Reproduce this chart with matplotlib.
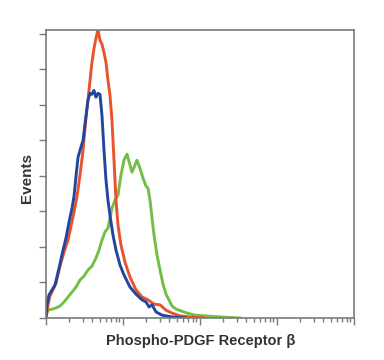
import numpy as np
from matplotlib import pyplot as plt
from matplotlib.ticker import LogLocator, NullFormatter

# -------------------- data ----------------------
# x values are read in decades (log10 of intensity), y in tick units (events)

red_logx = [0, 0.026, 0.052, 0.091, 0.13, 0.182, 0.234, 0.286, 0.325, 0.364, 0.403, 0.442,
            0.481, 0.519, 0.558, 0.597, 0.623, 0.649, 0.675, 0.701, 0.727, 0.753, 0.779,
            0.805, 0.831, 0.857, 0.883, 0.909, 0.935, 0.974, 1.026, 1.091, 1.169, 1.247,
            1.325, 1.403, 1.481, 1.558, 1.636, 1.740, 1.870, 2.065]
red_y = [0, 0.37, 0.62, 0.79, 0.98, 1.46, 1.85, 2.19, 2.58, 2.98, 3.43, 4.02,
         4.72, 5.62, 6.40, 7.19, 7.58, 7.87, 8.12, 7.81, 7.70, 7.47, 7.19,
         6.69, 6.26, 5.56, 4.44, 3.31, 2.61, 2.05, 1.57, 1.15, 0.79, 0.59,
         0.51, 0.39, 0.37, 0.22, 0.14, 0.06, 0.03, 0]

blue_logx = [0, 0.013, 0.039, 0.078, 0.117, 0.169, 0.221, 0.26, 0.299, 0.338, 0.364, 0.390,
             0.416, 0.442, 0.481, 0.506, 0.545, 0.571, 0.597, 0.623, 0.649, 0.675, 0.701,
             0.727, 0.753, 0.779, 0.805, 0.831, 0.870, 0.909, 0.961, 1.013, 1.091, 1.169,
             1.247, 1.299, 1.338, 1.377, 1.429, 1.506, 1.636, 1.805]
blue_y = [0, 0.37, 0.65, 0.79, 0.93, 1.40, 1.91, 2.25, 2.70, 3.09, 3.43, 3.99,
          4.52, 4.72, 5.00, 5.45, 6.12, 6.32, 6.29, 6.40, 6.21, 6.32, 6.29,
          5.70, 4.72, 3.88, 3.31, 2.89, 2.33, 1.91, 1.49, 1.21, 0.87, 0.67,
          0.51, 0.45, 0.31, 0.37, 0.17, 0.08, 0.03, 0]

green_logx = [0, 0.026, 0.078, 0.13, 0.182, 0.234, 0.286, 0.338, 0.390, 0.442, 0.494, 0.545,
              0.597, 0.649, 0.688, 0.727, 0.766, 0.805, 0.831, 0.857, 0.896, 0.935, 0.974,
              1.013, 1.052, 1.091, 1.117, 1.156, 1.182, 1.221, 1.260, 1.299, 1.325, 1.351,
              1.377, 1.403, 1.442, 1.481, 1.519, 1.558, 1.597, 1.636, 1.688, 1.753, 1.831,
              1.935, 2.065, 2.260, 2.52]
green_y = [0.06, 0.22, 0.25, 0.28, 0.34, 0.45, 0.59, 0.73, 0.87, 1.07, 1.18, 1.35,
           1.46, 1.69, 1.91, 2.19, 2.42, 2.53, 2.81, 3.09, 3.31, 3.46, 4.02,
           4.44, 4.61, 4.30, 4.10, 4.30, 4.44, 4.21, 3.93, 3.71, 3.65, 3.31,
           2.81, 2.33, 1.77, 1.35, 0.96, 0.67, 0.51, 0.34, 0.25, 0.20, 0.14,
           0.08, 0.06, 0.03, 0]

x_label = "Phospho-PDGF Receptor \u03b2"
y_label = "Events"

# -------------------- plot ----------------------
plt.rcParams['font.family'] = ['Liberation Sans', 'DejaVu Sans']

fig = plt.figure(figsize=(3.84, 3.6), dpi=100)
ax = fig.add_axes([46 / 384, 42 / 360, 308 / 384, 288 / 360])

ax.plot(10 ** np.array(green_logx), green_y, color='#72be46', lw=2.1)
ax.plot(10 ** np.array(red_logx), red_y, color='#e9532b', lw=2.1)
ax.plot(10 ** np.array(blue_logx), blue_y, color='#2246a0', lw=2.1)

ax.set_xscale('log')
ax.set_xlim(1, 1e4)
ax.set_ylim(0, 8.1)
ax.xaxis.set_major_locator(LogLocator(base=10, numticks=10))
ax.xaxis.set_minor_locator(LogLocator(base=10, subs=np.arange(2, 10), numticks=10))
ax.xaxis.set_major_formatter(NullFormatter())
ax.xaxis.set_minor_formatter(NullFormatter())
ax.set_yticks(np.arange(0, 9))
ax.set_yticklabels([])

for s in ax.spines.values():
    s.set_color('#7a7a7a')
    s.set_linewidth(1.2)
ax.tick_params(axis='both', which='major', length=5, width=1, color='#7a7a7a')
ax.tick_params(axis='x', which='minor', length=3, width=1, color='#7a7a7a')

fig.text(201 / 384, 1 - 341 / 360, x_label, ha='center', va='center',
         fontsize=10.5, fontweight='bold', color='#333333')
fig.text(27 / 384, 1 - 178 / 360, y_label, ha='center', va='center', rotation=90,
         fontsize=11, fontweight='bold', color='#333333')

fig.savefig('out.png', dpi=100)
